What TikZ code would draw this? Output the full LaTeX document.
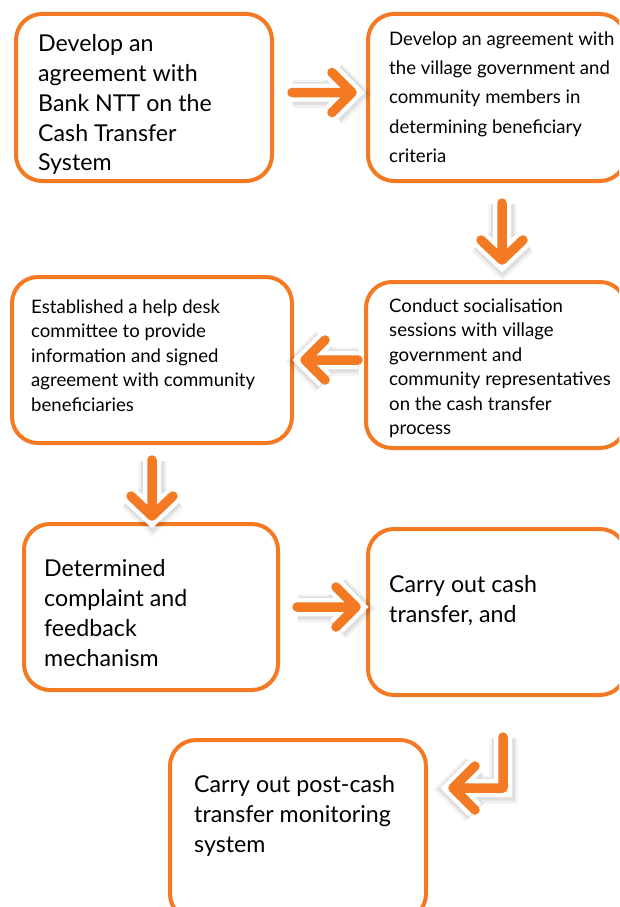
\documentclass[tikz,border=0pt]{standalone}
\usepackage{fontspec}
\setmainfont{Lato}
\usepackage{xcolor}
\usepackage{tikz}
\definecolor{stepOrange}{RGB}{243,121,34}
\tikzset{
    stepbox/.style = {draw=stepOrange, line width=4pt, rounded corners=26pt, fill=white, anchor=north west, inner sep=0pt, outer sep=0pt},
    bigtext/.style = {align=left, inner sep=0pt, anchor=north west, font=\fontsize{23.2}{29.8}\selectfont},
    smalltext/.style = {align=left, inner sep=0pt, anchor=north west, font=\fontsize{18.6}{24.5}\selectfont},
    widetext/.style = {smalltext, font=\fontsize{18.6}{29.2}\selectfont},
    flow/.style = {draw=stepOrange, line width=9.5pt, line cap=round, line join=round,
        preaction={draw=black, opacity=0.05, line width=28pt, transform canvas={shift={(0.5pt,-1.5pt)}}},
        preaction={draw=black, opacity=0.08, line width=23pt, transform canvas={shift={(0.5pt,-1pt)}}},
        preaction={draw=white, line width=18pt}}
}

\begin{document}
\begin{tikzpicture}[x=1pt, y=-1pt]
    \clip (0,0) rectangle (619,907);
    \fill[white] (0,0) rectangle (619,907);

    % boxes
    \node[stepbox, minimum width=256, minimum height=167] (b1) at (16,14) {};
    \node[stepbox, minimum width=258, minimum height=167] (b2) at (368,14) {};
    \node[stepbox, minimum width=260, minimum height=166] (b3) at (366,282) {};
    \node[stepbox, minimum width=280, minimum height=166] (b4) at (12,277) {};
    \node[stepbox, minimum width=254, minimum height=166] (b5) at (24,524) {};
    \node[stepbox, minimum width=258, minimum height=166] (b6) at (368,529) {};
    \node[stepbox, minimum width=256, minimum height=180] (b7) at (170,740) {};

    % texts
    \node[bigtext] (t1) at ([shift={(22,20.5)}]b1.north west) {Develop an\\agreement with\\Bank NTT on the\\Cash Transfer\\System};
    \node[widetext] (t2) at ([shift={(21,17.5)}]b2.north west) {Develop an agreement with\\the village government and\\community members in\\determining beneficiary\\criteria};
    \node[smalltext] (t3) at ([shift={(23,16.5)}]b3.north west) {Conduct socialisation\\sessions with village\\government and\\community representatives\\on the cash transfer\\process};
    \node[smalltext] (t4) at ([shift={(19,22.5)}]b4.north west) {Established a help desk\\committee to provide\\information and signed\\agreement with community\\beneficiaries};
    \node[bigtext] (t5) at ([shift={(20,35.5)}]b5.north west) {Determined\\complaint and\\feedback\\mechanism};
    \node[bigtext] (t6) at ([shift={(21,46.5)}]b6.north west) {Carry out cash\\transfer, and};
    \node[bigtext] (t7) at ([shift={(24,35.5)}]b7.north west) {Carry out post-cash\\transfer monitoring\\system};

    % arrows
    \draw[flow] ([shift={(20,-5)}]b1.east) -- ([shift={(-16,-5)}]b2.west)
        ++(-20,-20) -- ++(20,20) -- ++(-20,20);
    \draw[flow] ([shift={(5,22)}]b2.south) -- ([shift={(6,-22)}]b3.north)
        ++(-21,-20) -- ++(21,20) -- ++(21,-20);
    \draw[flow] ([shift={(-8,-5)}]b3.west) -- ([shift={(13,0)}]b4.east)
        ++(20,-20) -- ++(-20,20) -- ++(20,20);
    \draw[flow] ([shift={(0,17)}]b4.south) -- ([shift={(1,-8)}]b5.north)
        ++(-21,-20) -- ++(21,20) -- ++(21,-20);
    \draw[flow] ([shift={(19,0)}]b5.east) -- ([shift={(-12,-5)}]b6.west)
        ++(-20,-20) -- ++(20,20) -- ++(-20,20);
    \draw[flow] ([shift={(6,42)}]b6.south) |- ([shift={(27,-42)}]b7.east)
        ++(22,-22) -- ++(-22,22) -- ++(22,22);
\end{tikzpicture}
\end{document}
